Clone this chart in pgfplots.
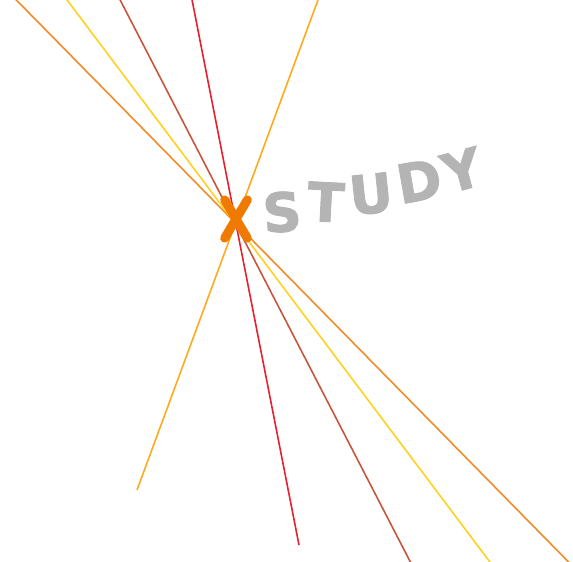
\documentclass[border=0pt]{standalone}
\usepackage{fontspec}
\setmainfont{DejaVu Sans}
\newfontfamily\lettfont[FakeBold=1.6]{DejaVu Sans Bold}
\usepackage{pgfplots}
\pgfplotsset{compat=1.18}
\definecolor{cOrange}{HTML}{F28C28}
\definecolor{cYellow}{HTML}{FFD21F}
\definecolor{cBrown}{HTML}{C8553D}
\definecolor{cRed}{HTML}{E8202E}
\definecolor{cAmber}{HTML}{FFAA1E}
\definecolor{cMark}{HTML}{F07A00}
\definecolor{cText}{HTML}{B4B4B4}

\begin{document}
\begin{tikzpicture}
\begin{axis}[
    width=573bp, height=562bp, scale only axis,
    hide axis,
    xmin=0, xmax=573, ymin=0, ymax=562,
    y dir=reverse, % pixel-like coordinates
    clip=true,
]
    % rays through the marked point
    \addplot[cOrange, line width=1.6bp] coordinates {(-20,-37) (600,594)};
    \addplot[cYellow, line width=1.6bp] coordinates {(40,-36) (520,602)};
    \addplot[cBrown, line width=1.6bp] coordinates {(100,-39) (430,600)};
    \addplot[cRed, line width=1.6bp] coordinates {(185,-36) (299,545)};
    \addplot[cAmber, line width=1.6bp] coordinates {(332,-38) (137,490)};

    % marked point
    \addplot[cMark, only marks, mark=x, mark size=20bp,
        mark options={line width=9bp, line cap=round, xscale=0.8, yscale=1.35}]
        coordinates {(236,219)};

    % label letters
    \tikzset{lt/.style={text=cText, inner sep=0pt, font=\lettfont\fontsize{54}{54}\selectfont}}
    \node[lt, rotate=4] at (axis cs:282,212) {S};
    \node[lt, rotate=-3] at (axis cs:326,202) {T};
    \node[lt, rotate=6] at (axis cs:371,194) {U};
    \node[lt, rotate=10] at (axis cs:419,181) {D};
    \node[lt, rotate=15] at (axis cs:462,170) {Y};
\end{axis}
\pgfresetboundingbox
\path (current axis.south west) rectangle (current axis.north east);
\end{tikzpicture}
\end{document}
